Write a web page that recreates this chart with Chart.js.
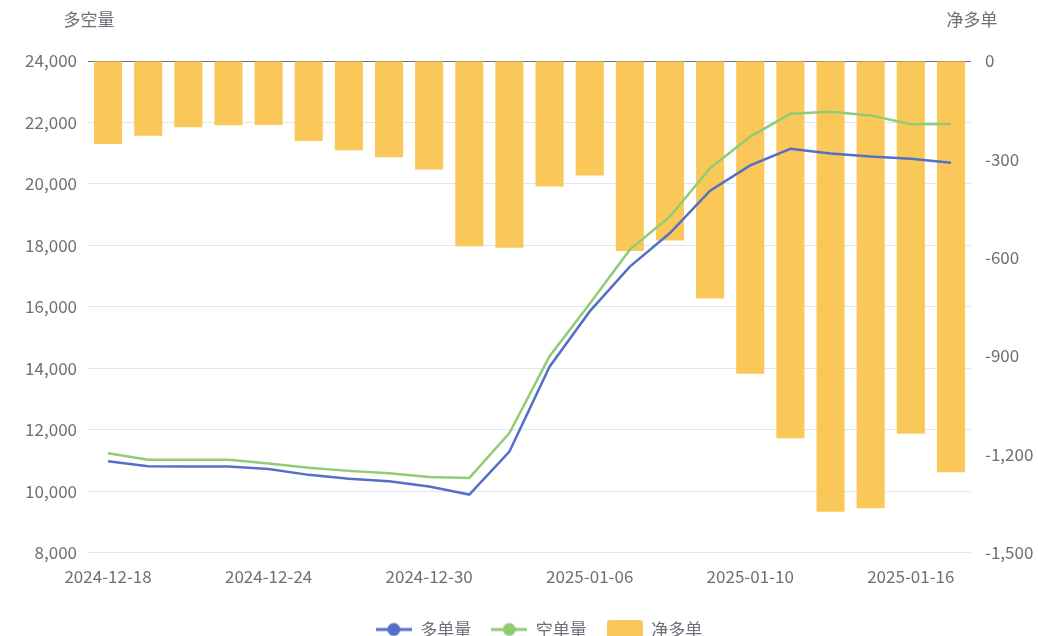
<!DOCTYPE html>
<html>
<head>
<meta charset="utf-8">
<script src="https://cdn.jsdelivr.net/npm/chart.js@4.4.1/dist/chart.umd.min.js"></script>
<style>
  html, body { margin: 0; padding: 0; background: #fff; overflow: hidden; }
  #wrap { position: relative; width: 1038px; height: 652px; }
</style>
</head>
<body>
<div id="wrap"><canvas id="c"></canvas></div>
<script>
// categories
var dates = ['2024-12-18', '2024-12-19', '2024-12-20', '2024-12-23', '2024-12-24', '2024-12-25',
             '2024-12-26', '2024-12-27', '2024-12-30', '2024-12-31', '2025-01-02', '2025-01-03',
             '2025-01-06', '2025-01-07', '2025-01-08', '2025-01-09', '2025-01-10', '2025-01-13',
             '2025-01-14', '2025-01-15', '2025-01-16', '2025-01-17'];

// 多单量 / 空单量 (left axis)
var longVol  = [10970, 10810, 10800, 10800, 10720, 10530, 10400, 10320, 10150, 9890, 11290, 14050,
                15850, 17310, 18400, 19780, 20600, 21140, 20990, 20890, 20820, 20690];
var shortVol = [11230, 11020, 11020, 11020, 10900, 10760, 10660, 10580, 10460, 10430, 11890, 14390,
                16100, 17860, 18940, 20510, 21540, 22280, 22350, 22230, 21940, 21950];

// 净多单 (right axis)
var netLong  = [-253, -228, -202, -196, -195, -244, -272, -294, -331, -565, -570, -383,
                -349, -580, -548, -725, -954, -1151, -1375, -1365, -1137, -1255];

// axis ranges: min, max, step
var leftRange  = [8000, 24000, 2000];
var rightRange = [-1500, 0, 300];

var textColor = '#6E7079';
var gridColor = '#E0E6F1';
var fontFamily = '"Noto Sans CJK SC", "Liberation Sans", sans-serif';

// legend markers: line with a dot, and a rounded box for the bars
function lineMarker(color) {
    var c = document.createElement('canvas');
    c.width = 36; c.height = 18;
    var g = c.getContext('2d');
    g.strokeStyle = color; g.fillStyle = color; g.lineWidth = 3;
    g.beginPath(); g.moveTo(0, 9); g.lineTo(36, 9); g.stroke();
    g.beginPath(); g.arc(18, 9, 6.5, 0, Math.PI * 2); g.fill();
    return c;
}
function boxMarker(color) {
    var c = document.createElement('canvas');
    c.width = 36; c.height = 20;
    var g = c.getContext('2d');
    g.fillStyle = color;
    g.beginPath(); g.roundRect(0, 0, 36, 20, 4); g.fill();
    return c;
}
var markers = [lineMarker('#5470c6'), lineMarker('#91cc75'), boxMarker('#fac858')];

var axisTitles = {
    id: 'axisTitles',
    afterLayout: function(chart) {
        // legend sits a bit right of the canvas centre
        chart.legend.left += 20;
        chart.legend.right += 20;
    },
    afterDraw: function(chart) {
        var ctx = chart.ctx, area = chart.chartArea;
        ctx.save();
        ctx.font = '17px ' + fontFamily;
        ctx.fillStyle = textColor;
        ctx.textAlign = 'center';
        ctx.textBaseline = 'middle';
        ctx.fillText('多空量', area.left + 1, 20);
        ctx.fillText('净多单', area.right + 1, 20);
        ctx.restore();
    }
};

new Chart(document.getElementById('c'), {
    data: {
        labels: dates,
        datasets: [
            {
                type: 'line', label: '多单量', data: longVol, yAxisID: 'y',
                borderColor: '#5470c6', backgroundColor: '#5470c6',
                borderWidth: 2.5, pointRadius: 0, tension: 0, order: 0
            },
            {
                type: 'line', label: '空单量', data: shortVol, yAxisID: 'y',
                borderColor: '#91cc75', backgroundColor: '#91cc75',
                borderWidth: 2.5, pointRadius: 0, tension: 0, order: 0
            },
            {
                type: 'bar', label: '净多单', data: netLong, yAxisID: 'y1',
                backgroundColor: '#fac858', borderWidth: 0,
                barPercentage: 0.7, categoryPercentage: 1, order: 1
            }
        ]
    },
    options: {
        responsive: true,
        maintainAspectRatio: false,
        animation: false,
        layout: { padding: { top: 61, left: 0, right: 0, bottom: 4 } },
        plugins: {
            tooltip: { enabled: false },
            legend: {
                position: 'bottom',
                labels: {
                    usePointStyle: true,
                    pointStyleWidth: 36,
                    padding: 20,
                    color: textColor,
                    font: { family: fontFamily, size: 17 },
                    generateLabels: function(chart) {
                        var items = Chart.defaults.plugins.legend.labels.generateLabels(chart);
                        items.forEach(function(it, i) { it.pointStyle = markers[i]; });
                        return items;
                    }
                }
            }
        },
        scales: {
            x: {
                afterFit: function(s) { s.height += 8; },
                grid: { display: false },
                border: { display: false },
                ticks: {
                    autoSkip: false, maxRotation: 0, padding: 6,
                    color: textColor,
                    font: { family: fontFamily, size: 17 },
                    callback: function(v, i) { return i % 4 === 0 ? dates[i] : ''; }
                }
            },
            y: {
                position: 'left',
                min: leftRange[0], max: leftRange[1],
                afterFit: function(s) { s.width = 88; },
                border: { display: false },
                grid: {
                    drawTicks: false,
                    color: function(c) { return c.tick.value === leftRange[1] ? 'rgba(0,0,0,0)' : gridColor; }
                },
                ticks: {
                    stepSize: leftRange[2], padding: 11,
                    color: textColor,
                    font: { family: fontFamily, size: 17 },
                    callback: function(v) { return v.toLocaleString('en-US'); }
                }
            },
            y1: {
                position: 'right',
                min: rightRange[0], max: rightRange[1],
                afterFit: function(s) { s.width = 67; },
                border: { display: false },
                grid: {
                    drawTicks: false,
                    color: function(c) { return c.tick.value === 0 ? textColor : 'rgba(0,0,0,0)'; }
                },
                ticks: {
                    stepSize: rightRange[2], padding: 14,
                    color: textColor,
                    font: { family: fontFamily, size: 17 },
                    callback: function(v) { return v.toLocaleString('en-US'); }
                }
            }
        }
    },
    plugins: [axisTitles]
});
</script>
</body>
</html>
